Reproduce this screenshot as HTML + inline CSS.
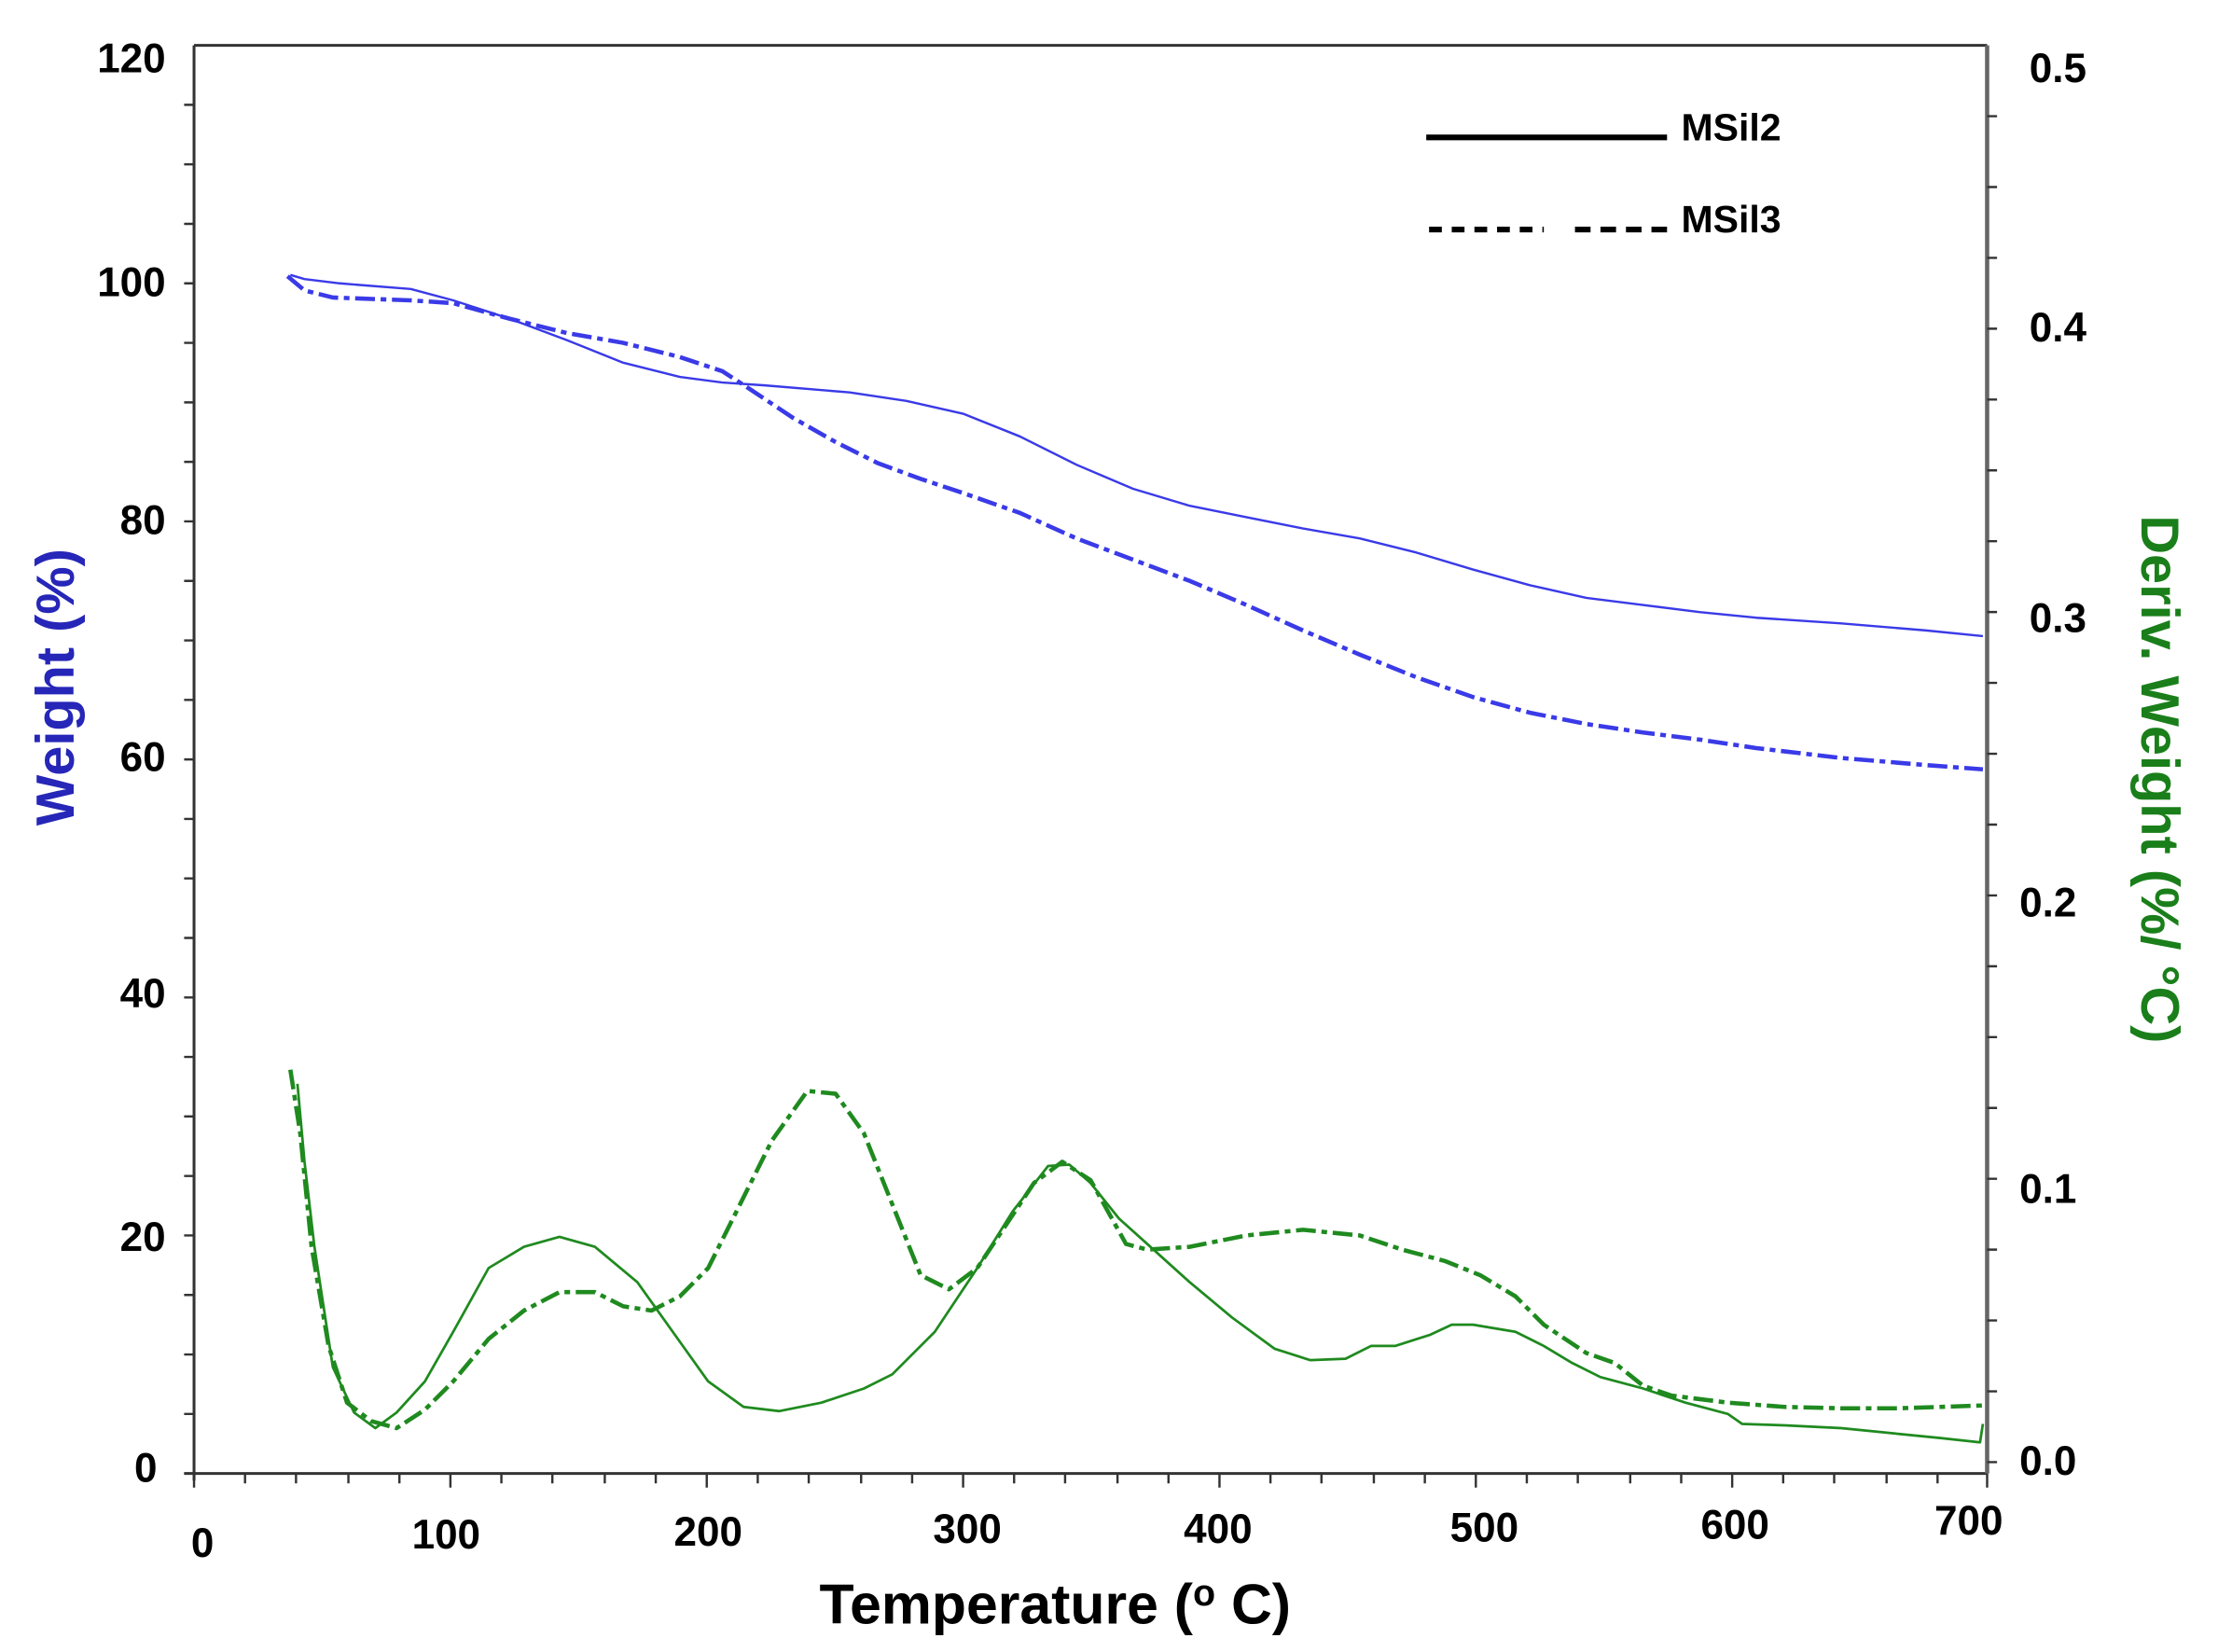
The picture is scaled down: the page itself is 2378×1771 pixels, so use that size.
<!DOCTYPE html>
<html><head><meta charset="utf-8"><style>
html,body{margin:0;padding:0;background:#fff;}
svg{display:block;}
text{font-family:"Liberation Sans",Arial,sans-serif;font-weight:bold;}
</style></head><body>
<svg width="2378" height="1771" viewBox="0 0 1566 1166" preserveAspectRatio="none" xmlns="http://www.w3.org/2000/svg">
<rect width="1566" height="1166" fill="#fff"/>
<g stroke="#333" stroke-width="2" fill="none">
<line x1="137" y1="32" x2="137" y2="1045"/>
<line x1="137" y1="32" x2="1403" y2="32"/>
<line x1="130" y1="1040" x2="1403" y2="1040"/>
<line x1="1403" y1="32" x2="1403" y2="1040" stroke="#666" stroke-width="3"/>
</g>
<g stroke="#333" stroke-width="1.6">
<path d="M130 1040h7M130 998h7M130 956h7M130 914h7M130 872h7M130 830h7M130 788h7M130 746h7M130 704h7M130 662h7M130 620h7M130 578h7M130 536h7M130 494h7M130 452h7M130 410h7M130 368h7M130 326h7M130 284h7M130 242h7M130 200h7M130 158h7M130 116h7M130 74h7"/>
<path d="M137 1040v10M173 1040v7M209 1040v7M246 1040v7M282 1040v7M318 1040v10M354 1040v7M390 1040v7M427 1040v7M463 1040v7M499 1040v10M535 1040v7M571 1040v7M608 1040v7M644 1040v7M680 1040v10M716 1040v7M752 1040v7M789 1040v7M825 1040v7M861 1040v10M897 1040v7M933 1040v7M970 1040v7M1006 1040v7M1042 1040v10M1078 1040v7M1114 1040v7M1151 1040v7M1187 1040v7M1223 1040v10M1259 1040v7M1295 1040v7M1332 1040v7M1368 1040v7M1403 1040v10"/>
<path d="M1403 82h7M1403 132h7M1403 182h7M1403 232h7M1403 282h7M1403 332h7M1403 382h7M1403 432h7M1403 482h7M1403 532h7M1403 582h7M1403 632h7M1403 682h7M1403 732h7M1403 782h7M1403 832h7M1403 882h7M1403 932h7M1403 982h7M1403 1032h7"/>
</g>
<g font-size="29" fill="#000" text-anchor="end">
<text x="117" y="51">120</text><text x="117" y="209">100</text><text x="117" y="377">80</text>
<text x="117" y="544">60</text><text x="117" y="711">40</text><text x="117" y="883">20</text><text x="111" y="1046">0</text>
</g>
<g font-size="29" fill="#000" text-anchor="middle">
<text x="143" y="1099">0</text><text x="315" y="1093">100</text><text x="500" y="1091">200</text>
<text x="683" y="1089">300</text><text x="860" y="1089">400</text><text x="1048" y="1088">500</text>
<text x="1225" y="1086">600</text><text x="1390" y="1083">700</text>
<text x="1453" y="58">0.5</text><text x="1453" y="241">0.4</text><text x="1453" y="446">0.3</text>
<text x="1446" y="647">0.2</text><text x="1446" y="849">0.1</text><text x="1446" y="1041">0.0</text>
</g>
<text x="745" y="1146" font-size="40" text-anchor="middle" fill="#000">Temperature (<tspan font-size="26" dy="-13">o</tspan><tspan dy="13"> C)</tspan></text>
<text transform="translate(52,485) rotate(-90)" font-size="38" text-anchor="middle" fill="#2626b8">Weight (%)</text>
<text transform="translate(1512,550) rotate(90)" font-size="38" text-anchor="middle" fill="#1a7f1a">Deriv. Weight (%/ °C)</text>
<line x1="1007" y1="97" x2="1177" y2="97" stroke="#000" stroke-width="4"/>
<line x1="1009" y1="162" x2="1090" y2="162" stroke="#000" stroke-width="4" stroke-dasharray="9,7"/>
<line x1="1112" y1="162" x2="1180" y2="162" stroke="#000" stroke-width="4" stroke-dasharray="11,7"/>
<text x="1187" y="99" font-size="27" fill="#000">MSil2</text>
<text x="1187" y="164" font-size="27" fill="#000">MSil3</text>
<g fill="none" stroke="#3a3ae8" stroke-linejoin="round">
<polyline stroke-width="1.6" points="205,194 215,197 240,200 290,204 320,212 360,225 400,240 440,256 480,266 510,270 540,272 600,277 640,283 680,292 720,308 760,328 800,345 840,357 880,365 920,373 960,380 1000,390 1040,402 1080,413 1120,422 1160,427 1200,432 1240,436 1300,440 1360,445 1400,449"/>
<polyline stroke-width="3" stroke-dasharray="14,4,4,4" points="203,195 215,205 235,210 290,212 320,214 360,225 400,235 440,242 480,252 510,262 530,275 560,295 590,312 620,327 650,338 680,348 720,362 760,380 800,395 840,410 880,427 920,445 960,462 1000,478 1040,492 1080,503 1120,511 1160,517 1200,522 1240,528 1300,535 1360,540 1400,543"/>
</g>
<g fill="none" stroke="#1f8a1f" stroke-linejoin="round">
<polyline stroke-width="1.8" points="210,765 215,820 222,880 235,965 250,997 265,1008 280,997 300,975 320,940 345,895 370,880 395,873 420,880 450,905 475,940 500,975 525,993 550,996 580,990 610,980 630,970 660,940 690,895 715,855 740,823 755,822 770,835 790,860 810,878 840,905 870,930 900,952 925,960 950,959 968,950 985,950 1010,942 1025,935 1040,935 1070,940 1090,950 1110,962 1130,972 1160,980 1190,990 1220,998 1230,1005 1260,1006 1300,1008 1340,1012 1370,1015 1398,1018 1400,1005"/>
<polyline stroke-width="3" stroke-dasharray="14,4,4,4" points="205,755 212,800 220,880 232,950 245,990 262,1003 280,1008 300,995 320,975 345,945 370,925 395,912 420,912 440,922 460,925 480,915 500,895 520,855 545,805 570,770 590,772 610,800 630,850 650,900 670,910 690,895 710,865 730,835 750,820 770,833 795,878 810,882 840,880 880,872 920,868 960,872 990,882 1020,890 1045,900 1070,915 1090,935 1120,955 1140,962 1160,978 1180,985 1220,990 1260,993 1300,994 1340,994 1370,993 1400,992"/>
</g>
</svg>
</body></html>
